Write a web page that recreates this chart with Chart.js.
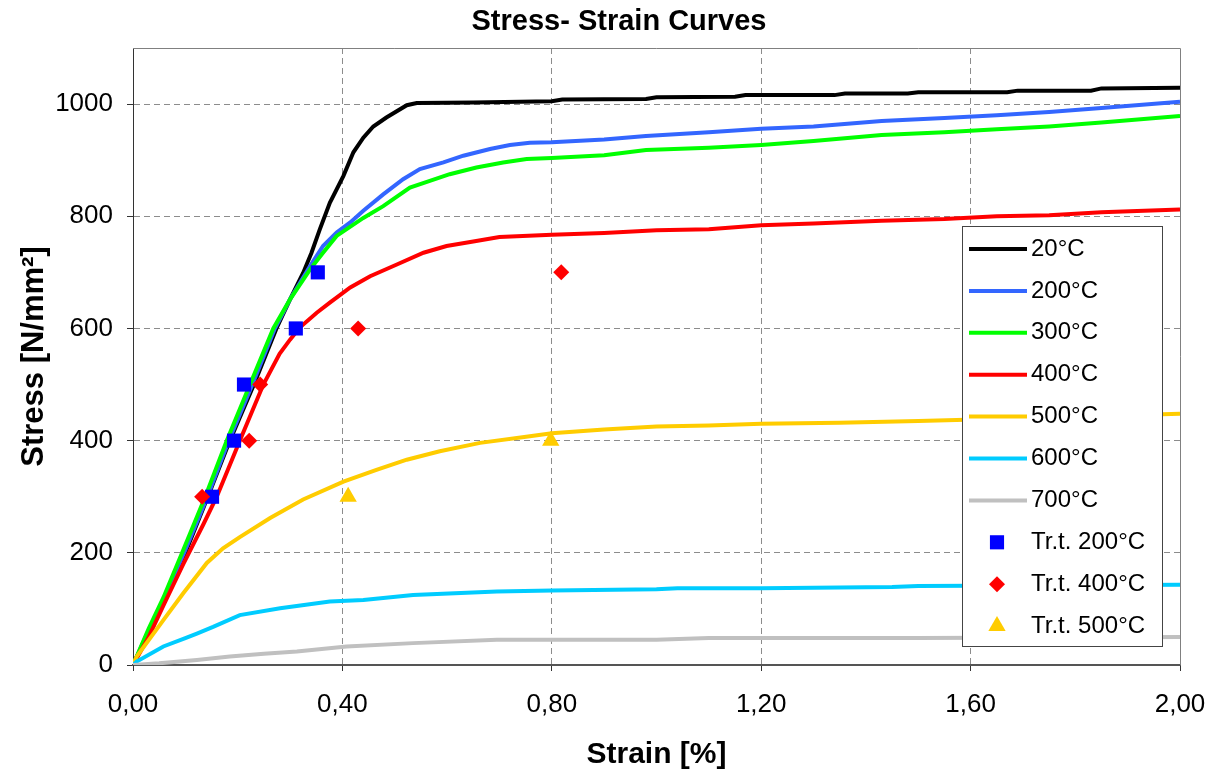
<!DOCTYPE html>
<html>
<head>
<meta charset="utf-8">
<script src="https://cdn.jsdelivr.net/npm/chart.js@4.4.0/dist/chart.umd.min.js"></script>
<style>body{margin:0;background:#fff}</style>
</head>
<body>
<canvas id="c" width="1210" height="771"></canvas>
<script>
// curves (strain in %, stress in N/mm²)
var strain20 = [0,0.03,0.06,0.1,0.143,0.185,0.231,0.274,0.30,0.325,0.341,0.357,0.376,0.402,0.421,0.44,0.459,0.484,0.523,0.542,0.65,0.80,0.82,0.98,1.0,1.15,1.17,1.34,1.36,1.48,1.50,1.67,1.69,1.83,1.85,2.0];
var stress20 = [0,60,115,200,300,400,500,600,652,699,735,777,824,872,914,940,960,976,998,1002,1003,1005,1008,1009,1012,1013,1016,1016,1019,1019,1021,1021,1024,1024,1028,1029];

var strain200 = [0,0.03,0.06,0.1,0.142,0.183,0.228,0.271,0.30,0.338,0.363,0.389,0.415,0.44,0.478,0.516,0.548,0.593,0.631,0.682,0.72,0.758,0.8,0.9,0.98,1.1,1.2,1.3,1.43,1.55,1.65,1.75,1.85,2.0];
var stress200 = [0,62,120,205,300,400,500,600,652,711,747,771,789,810,839,866,884,896,908,920,927,931,932,937,943,950,956,960,970,975,980,986,993,1004];

var strain300 = [0,0.03,0.058,0.096,0.138,0.179,0.2235,0.268,0.30,0.338,0.363,0.389,0.44,0.478,0.529,0.567,0.605,0.656,0.707,0.752,0.8,0.9,0.98,1.1,1.2,1.3,1.43,1.55,1.65,1.75,1.85,2.0];
var stress300 = [0,65,120,205,300,400,500,600,652,705,735,765,797,818,851,863,875,887,896,902,904,909,918,922,927,934,945,950,955,960,967,979];

var strain400 = [0,0.03,0.06,0.096,0.134,0.16,0.204,0.249,0.28,0.30,0.319,0.351,0.376,0.415,0.453,0.504,0.555,0.599,0.65,0.70,0.8,0.9,1.0,1.1,1.2,1.3,1.43,1.55,1.65,1.75,1.85,2.0];
var stress400 = [0,50,110,180,250,300,400,500,555,580,602,628,646,673,693,714,735,747,755,763,767,770,775,777,784,787,792,795,800,802,807,812];

var strain500 = [0,0.007,0.058,0.096,0.141,0.172,0.204,0.262,0.325,0.402,0.465,0.523,0.586,0.663,0.758,0.8,0.9,1.0,1.1,1.2,1.35,1.5,1.7,1.85,2.0];
var stress500 = [0,15,80,128,182,208,228,262,295,327,348,366,381,396,408,413,420,425,427,430,432,435,440,444,448];

var strain600 = [0,0.007,0.058,0.1,0.122,0.153,0.204,0.281,0.376,0.44,0.535,0.695,0.8,1.0,1.04,1.2,1.45,1.5,2.0];
var stress600 = [0,6,33,48,56,68,89,101,113,116,125,131,133,135,137,137,139,141,143];

var strain700 = [0,0.05,0.122,0.185,0.25,0.313,0.408,0.535,0.695,1.0,1.1,1.5,2.0];
var stress700 = [0,3,9,15,20,24,33,39,45,45,48,48,50];

// test points
var trt200Strain = [0.151,0.193,0.212,0.311,0.353];
var trt200Stress = [300,400,500,600,700];
var trt400Strain = [0.132,0.222,0.243,0.43,0.818];
var trt400Stress = [300,400,500,600,700];
var trt500Strain = [0.411,0.798];
var trt500Stress = [300,400];

var xTicks = [0,0.4,0.8,1.2,1.6,2.0];
var yTicks = [0,200,400,600,800,1000];

function pts(xs, ys){
	var out=[];
	for(var i=0;i<xs.length;i++){ out.push({x:xs[i],y:ys[i]}); }
	return out;
}

var FONT = '"Liberation Sans", Arial, sans-serif';

function curve(label, color, xs, ys){
	return {label:label, data:pts(xs,ys), showLine:true, borderColor:color, backgroundColor:color,
		borderWidth:4, pointRadius:0, pointHoverRadius:0, tension:0};
}
function marks(label, color, style, r, xs, ys){
	return {label:label, data:pts(xs,ys), showLine:false, pointStyle:style, pointRadius:r,
		pointHoverRadius:r, backgroundColor:color, borderColor:color, borderWidth:0};
}

var datasets = [
	curve('20°C','#000000',strain20,stress20),
	curve('200°C','#3366FF',strain200,stress200),
	curve('300°C','#00FF00',strain300,stress300),
	curve('400°C','#FF0000',strain400,stress400),
	curve('500°C','#FFCC00',strain500,stress500),
	curve('600°C','#00CCFF',strain600,stress600),
	curve('700°C','#C0C0C0',strain700,stress700),
	marks('Tr.t. 200°C','#0000FF','rect',10,trt200Strain,trt200Stress),
	marks('Tr.t. 400°C','#FF0000','rectRot',8,trt400Strain,trt400Stress),
	marks('Tr.t. 500°C','#FFCC00','triangle',10,trt500Strain,trt500Stress)
];
// later series on top, like the original
for(var i=0;i<datasets.length;i++){ datasets[i].order = datasets.length-i; }

var frameAndTitle = {
	id:'frameAndTitle',
	beforeDatasetsDraw:function(chart){
		var a=chart.chartArea, ctx=chart.ctx;
		ctx.save();
		ctx.strokeStyle='#808080'; ctx.lineWidth=1;
		ctx.beginPath();
		ctx.moveTo(a.left, a.top+0.5); ctx.lineTo(a.right+0.5, a.top+0.5); ctx.lineTo(a.right+0.5, a.bottom);
		ctx.stroke();
		ctx.restore();
	},
	afterDraw:function(chart){
		var ctx=chart.ctx;
		ctx.save();
		ctx.fillStyle='#000';
		ctx.font='bold 29px '+FONT;
		ctx.textAlign='center'; ctx.textBaseline='middle';
		ctx.fillText('Stress- Strain Curves',619,22);
		ctx.restore();
	}
};

var legendBox = {
	id:'legendBox',
	afterDatasetsDraw:function(chart){
		var ctx=chart.ctx;
		ctx.save();
		ctx.fillStyle='#fff';
		ctx.fillRect(962,226,200,420);
		ctx.strokeStyle='#444'; ctx.lineWidth=1;
		ctx.strokeRect(962.5,226.5,200,420);
		ctx.font='24px '+FONT;
		ctx.textBaseline='middle'; ctx.textAlign='left';
		chart.data.datasets.forEach(function(ds,i){
			var y=249+i*41.9;
			if(ds.showLine){
				ctx.strokeStyle=ds.borderColor; ctx.lineWidth=4;
				ctx.beginPath(); ctx.moveTo(969,y); ctx.lineTo(1027,y); ctx.stroke();
			}else{
				ctx.fillStyle=ds.backgroundColor;
				Chart.helpers.drawPoint(ctx,{pointStyle:ds.pointStyle,radius:ds.pointRadius,rotation:0,borderWidth:0},997,y);
			}
			ctx.fillStyle='#000';
			ctx.fillText(ds.label,1031,y);
		});
		ctx.restore();
	}
};

new Chart(document.getElementById('c'),{
	type:'scatter',
	data:{datasets:datasets},
	plugins:[frameAndTitle,legendBox],
	options:{
		responsive:false,
		animation:false,
		layout:{padding:{top:48,right:30,left:0,bottom:0}},
		plugins:{legend:{display:false},tooltip:{enabled:false},title:{display:false}},
		scales:{
			x:{
				type:'linear', min:0, max:2,
				afterBuildTicks:function(s){ s.ticks = xTicks.map(function(v){return {value:v};}); },
				afterFit:function(s){ s.height=106; s.paddingLeft=0; s.paddingRight=0; },
				ticks:{color:'#000',font:{family:FONT,size:26},padding:18,
					callback:function(v){ return Number(v).toFixed(2).replace('.',','); }},
				grid:{tickLength:6,tickColor:'#333',
					color:function(c){ return (c.tick && (c.tick.value===0||c.tick.value===2))?'rgba(0,0,0,0)':'#8c8c8c'; }},
				border:{color:'#555',width:2,dash:[6,4]},
				title:{display:true,text:'Strain [%]',color:'#000',font:{family:FONT,size:30,weight:'bold',lineHeight:1.1},padding:{top:0,bottom:0}}
			},
			y:{
				type:'linear', min:0, max:1100,
				afterBuildTicks:function(s){ s.ticks = yTicks.map(function(v){return {value:v};}); },
				afterFit:function(s){ s.width=133; s.paddingTop=0; s.paddingBottom=0; },
				ticks:{color:'#000',font:{family:FONT,size:26},padding:14,
					callback:function(v){ return String(v); }},
				grid:{tickLength:6,tickColor:'#333',
					color:function(c){ return (c.tick && c.tick.value===0)?'rgba(0,0,0,0)':'#8c8c8c'; }},
				border:{color:'#333',width:1,dash:[6,4]},
				title:{display:true,text:'Stress [N/mm²]',color:'#000',font:{family:FONT,size:31,weight:'bold',lineHeight:1.1},padding:{top:17,bottom:0}}
			}
		}
	}
});
</script>
</body>
</html>
